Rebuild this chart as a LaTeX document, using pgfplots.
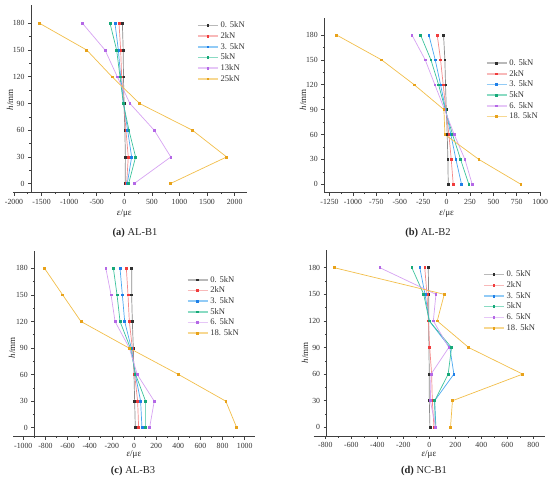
\documentclass[border=0pt]{standalone}
\usepackage{fontspec}
\setmainfont{Liberation Serif}
\usepackage{pgfplots}
\pgfplotsset{compat=1.18}
\definecolor{lA}{HTML}{8A8A8A}\definecolor{mA}{HTML}{303030}
\definecolor{lB}{HTML}{F48A8A}\definecolor{mB}{HTML}{F03C3C}
\definecolor{lC}{HTML}{4AA8F0}\definecolor{mC}{HTML}{1F7FE8}
\definecolor{lD}{HTML}{3CC39B}\definecolor{mD}{HTML}{16A878}
\definecolor{lE}{HTML}{D6A2F2}\definecolor{mE}{HTML}{B468E6}
\definecolor{lF}{HTML}{F2BE4A}\definecolor{mF}{HTML}{E8A21A}
\pgfplotsset{
  panel/.style={
    scale only axis, anchor=south west,
    axis x line=bottom, axis y line=left,
    x axis line style={-}, y axis line style={-},
    axis line style={draw=black!75, line width=0.9pt},
    tick align=outside,
    major tick length=3pt, minor tick length=1.5pt,
    tick style={black!75, line width=0.6pt},
    minor x tick num=1, minor y tick num=1,
    ymin=-10, ymax=200, ytick={0,30,...,180},
    scaled x ticks=false,
    /pgf/number format/assume math mode=true,
    /pgf/number format/1000 sep={},
    ticklabel style={font=\fontsize{7.8}{8}\selectfont, text=black!80},
    legend cell align=left,
    legend image code/.code={\draw[##1, mark=none, line width=1.5pt, draw opacity=0.6] (0pt,0pt) -- (20pt,0pt); \draw[##1] plot coordinates {(10pt,0pt)};},
    legend style={draw=none, fill=none, anchor=north west, inner sep=0pt, row sep=-0.8pt,
      font=\fontsize{8.6}{9}\selectfont, text=black!80},
  },
  sA/.style={color=lA, line width=0.7pt, mark=square*, mark size=0.9pt, mark options={fill=mA, draw=mA}},
  sB/.style={color=lB, line width=0.7pt, mark=square*, mark size=0.9pt, mark options={fill=mB, draw=mB}},
  sC/.style={color=lC, line width=0.7pt, mark=square*, mark size=0.9pt, mark options={fill=mC, draw=mC}},
  sD/.style={color=lD, line width=0.7pt, mark=square*, mark size=0.9pt, mark options={fill=mD, draw=mD}},
  sE/.style={color=lE, line width=0.7pt, mark=square*, mark size=0.9pt, mark options={fill=mE, draw=mE}},
  sF/.style={color=lF, line width=0.7pt, mark=square*, mark size=0.9pt, mark options={fill=mF, draw=mF}},
}
\begin{document}
\begin{tikzpicture}
\path[use as bounding box] (0,0) rectangle (550pt,480pt);
% (a)
\begin{axis}[panel, at={(12.9pt,287.4pt)}, width=234.4pt, height=187.1pt,
  xmin=-2020, xmax=2230, xtick={-2000,-1500,...,2000},
  axis y line shift=-18.1pt,
  legend style={at={(0.785,0.925)}}]
\addplot[sA] coordinates {(15,0)(20,30)(10,60)(-5,90)(-15,120)(-20,150)(-35,180)};
\addplot[sB] coordinates {(42,0)(72,30)(30,60)(-8,90)(-48,120)(-66,150)(-96,180)};
\addplot[sC] coordinates {(54,0)(133,30)(60,60)(-12,90)(-66,120)(-108,150)(-169,180)};
\addplot[sD] coordinates {(78,0)(205,30)(84,60)(-18,90)(-78,120)(-139,150)(-259,180)};
\addplot[sE] coordinates {(175,0)(843,30)(542,60)(102,90)(-127,120)(-349,150)(-759,180)};
\addplot[sF] coordinates {(831,0)(1855,30)(1235,60)(277,90)(-223,120)(-681,150)(-1536,180)};
\legend{0. 5kN,2kN,3. 5kN,5kN,13kN,25kN}
\end{axis}
% (b)
\begin{axis}[panel, at={(324.3pt,287.4pt)}, width=217.1pt, height=174.2pt,
  xmin=-1306, xmax=1013, xtick={-1250,-1000,...,1000},
  legend style={at={(0.743,0.777)}}]
\addplot[sA] coordinates {(18,0)(14,30)(7,60)(-3,90)(-11,120)(-18,150)(-32,180)};
\addplot[sB] coordinates {(71,0)(50,30)(25,60)(-7,90)(-36,120)(-64,150)(-100,180)};
\addplot[sC] coordinates {(160,0)(100,30)(46,60)(-10,90)(-64,120)(-121,150)(-189,180)};
\addplot[sD] coordinates {(238,0)(150,30)(64,60)(-14,90)(-85,120)(-167,150)(-278,180)};
\addplot[sE] coordinates {(274,0)(196,30)(82,60)(-21,90)(-125,120)(-228,150)(-370,180)};
\addplot[sF] coordinates {(794,0)(345,30)(-18,60)(-28,90)(-345,120)(-694,150)(-1175,180)};
\legend{0. 5kN,2kN,3. 5kN,5kN,6. 5kN,18. 5kN}
\end{axis}
% (c)
\begin{axis}[panel, at={(13.3pt,43.45pt)}, width=241.7pt, height=185.9pt,
  xmin=-1090, xmax=1093, xtick={-1000,-800,...,1000},
  axis y line shift=-21pt,
  legend style={at={(0.717,0.875)}}]
\addplot[sA] coordinates {(12,0)(6,30)(0,60)(-6,90)(-15,120)(-21,150)(-21,180)};
\addplot[sB] coordinates {(42,0)(33,30)(6,60)(-15,90)(-42,120)(-54,150)(-69,180)};
\addplot[sC] coordinates {(72,0)(60,30)(12,60)(-24,90)(-84,120)(-105,150)(-126,180)};
\addplot[sD] coordinates {(105,0)(105,30)(15,60)(-33,90)(-126,120)(-153,150)(-186,180)};
\addplot[sE] coordinates {(141,0)(183,30)(30,60)(-42,90)(-171,120)(-207,150)(-254,180)};
\addplot[sF] coordinates {(928,0)(829,30)(404,60)(-45,90)(-479,120)(-644,150)(-808,180)};
\legend{0. 5kN,2kN,3. 5kN,5kN,6. 5kN,18. 5kN}
\end{axis}
% (d)
\begin{axis}[panel, at={(313.6pt,43.8pt)}, width=231.4pt, height=186.2pt,
  xmin=-890, xmax=890, xtick={-800,-600,...,800},
  axis y line shift=-13pt,
  legend style={at={(0.732,0.899)}}]
\addplot[sA] coordinates {(5,0)(0,30)(0,60)(-3,90)(-5,120)(-5,150)(-8,180)};
\addplot[sB] coordinates {(36,0)(23,30)(18,60)(3,90)(-7,120)(-18,150)(-35,180)};
\addplot[sC] coordinates {(51,0)(41,30)(189,60)(158,90)(0,120)(-33,150)(-73,180)};
\addplot[sD] coordinates {(46,0)(41,30)(145,60)(171,90)(0,120)(-43,150)(-134,180)};
\addplot[sE] coordinates {(49,0)(8,30)(13,60)(150,90)(31,120)(51,150)(-380,180)};
\addplot[sF] coordinates {(163,0)(178,30)(718,60)(303,90)(61,120)(115,150)(-730,180)};
\legend{0. 5kN,2kN,3. 5kN,5kN,6. 5kN,18. 5kN}
\end{axis}
% labels
\begin{scope}[every node/.style={text=black!85}]
\node[rotate=90, font=\fontsize{9}{10}\selectfont] at (10pt,380pt) {\textit{h}/mm};
\node[font=\fontsize{9}{10}\selectfont] at (124.3pt,267pt) {\textit{ε}/με};
\node[font=\fontsize{10.5}{12}\selectfont] at (135pt,247pt) {\textbf{(a)} AL-B1};
\node[rotate=90, font=\fontsize{9}{10}\selectfont] at (303pt,380pt) {\textit{h}/mm};
\node[font=\fontsize{9}{10}\selectfont] at (446.7pt,267pt) {\textit{ε}/με};
\node[font=\fontsize{10.5}{12}\selectfont] at (428pt,247pt) {\textbf{(b)} AL-B2};
\node[rotate=90, font=\fontsize{9}{10}\selectfont] at (12pt,132pt) {\textit{h}/mm};
\node[font=\fontsize{9}{10}\selectfont] at (134pt,25.5pt) {\textit{ε}/με};
\node[font=\fontsize{10.5}{12}\selectfont] at (133pt,9pt) {\textbf{(c)} AL-B3};
\node[rotate=90, font=\fontsize{9}{10}\selectfont] at (305pt,127pt) {\textit{h}/mm};
\node[font=\fontsize{9}{10}\selectfont] at (429pt,25.5pt) {\textit{ε}/με};
\node[font=\fontsize{10.5}{12}\selectfont] at (424pt,9pt) {\textbf{(d)} NC-B1};
\end{scope}
\end{tikzpicture}
\end{document}
